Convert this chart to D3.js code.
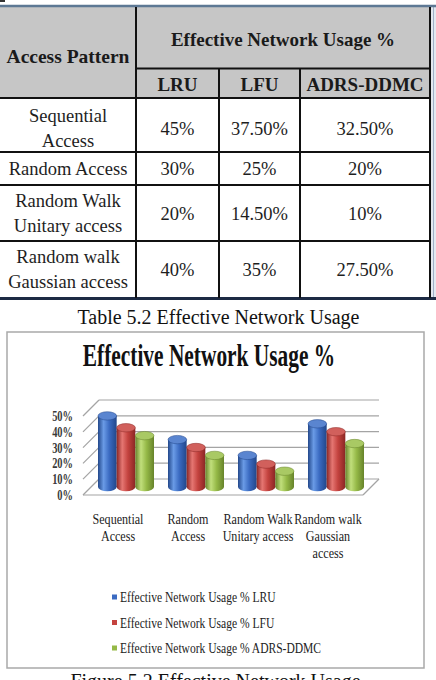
<!DOCTYPE html>
<html><head><meta charset="utf-8">
<script src="https://cdn.jsdelivr.net/npm/d3@7"></script>
<style>body{margin:0;background:#fff}svg{display:block}</style>
</head><body>
<script>
// ---------- data ----------
const tableHeaderLeft = "Access Pattern";
const tableHeaderTop = "Effective Network Usage %";
const methods = ["LRU", "LFU", "ADRS-DDMC"];
const patterns = [["Sequential", "Access"], ["Random Access"], ["Random Walk", "Unitary access"], ["Random walk", "Gaussian access"]];
const tableValues = [["45%", "37.50%", "32.50%"], ["30%", "25%", "20%"], ["20%", "14.50%", "10%"], ["40%", "35%", "27.50%"]];
const tableCaption = "Table 5.2 Effective Network Usage";

const chartTitle = "Effective Network Usage %";
const categories = [["Sequential", "Access"], ["Random", "Access"], ["Random Walk", "Unitary access"], ["Random walk", "Gaussian", "access"]];
const lru = [45, 30, 20, 40];
const lfu = [37.5, 25, 14.5, 35];
const adrs = [32.5, 20, 10, 27.5];
const yTicks = [0, 10, 20, 30, 40, 50];
const yTickLabels = ["0%", "10%", "20%", "30%", "40%", "50%"];
const seriesNames = ["Effective Network Usage % LRU", "Effective Network Usage % LFU", "Effective Network Usage % ADRS-DDMC"];
const figureCaption = "Figure 5.2 Effective Network Usage";

// ---------- setup ----------
const W = 436, H = 680;
const svg = d3.select("body").append("svg").attr("width", W).attr("height", H);
const serif = "'Liberation Serif','Times New Roman',serif";

// top-left mark
svg.append("rect").attr("x", 0).attr("y", 0).attr("width", 5).attr("height", 2).attr("fill", "#333");

// ---------- table ----------
const colX = [0, 136, 219, 300, 430];
const rowY = [98, 152, 185, 241, 298];
const T = svg.append("g");
T.append("rect").attr("x", 0).attr("y", 6).attr("width", 430).attr("height", 92).attr("fill", "#c6c6c6");
T.append("rect").attr("x", 0).attr("y", 98).attr("width", 430).attr("height", 200).attr("fill", "#fff");
// right outer strip
T.append("rect").attr("x", 431).attr("y", 6).attr("width", 5).attr("height", 293).attr("fill", "#e3e8ef");
T.append("line").attr("x1", 433.5).attr("x2", 433.5).attr("y1", 6).attr("y2", 299).attr("stroke", "#9fb0c6").attr("stroke-width", 1);
// top border
T.append("line").attr("x1", 0).attr("x2", 436).attr("y1", 6).attr("y2", 6).attr("stroke", "#5d7894").attr("stroke-width", 2.5);
// header split line
T.append("line").attr("x1", colX[1]).attr("x2", colX[4]).attr("y1", 68.5).attr("y2", 68.5).attr("stroke", "#111").attr("stroke-width", 2);
// row lines
rowY.slice(0, 4).forEach(yy => {
  T.append("line").attr("x1", 0).attr("x2", colX[4]).attr("y1", yy).attr("y2", yy).attr("stroke", "#111").attr("stroke-width", 2);
});
// bottom border
T.append("line").attr("x1", 0).attr("x2", 436).attr("y1", 298.5).attr("y2", 298.5).attr("stroke", "#1d2a44").attr("stroke-width", 3);
// vertical lines
T.append("line").attr("x1", colX[1]).attr("x2", colX[1]).attr("y1", 7).attr("y2", 298).attr("stroke", "#111").attr("stroke-width", 2);
[colX[2], colX[3]].forEach(xx => {
  T.append("line").attr("x1", xx).attr("x2", xx).attr("y1", 68).attr("y2", 298).attr("stroke", "#111").attr("stroke-width", 2);
});
T.append("line").attr("x1", colX[4]).attr("x2", colX[4]).attr("y1", 7).attr("y2", 298).attr("stroke", "#111").attr("stroke-width", 2);

// header texts
T.append("text").attr("x", (colX[0] + colX[1]) / 2).attr("y", 63).attr("text-anchor", "middle")
  .attr("font-family", serif).attr("font-weight", "bold").attr("font-size", 19.5).attr("fill", "#1a1a1a").text(tableHeaderLeft);
T.append("text").attr("x", (colX[1] + colX[4]) / 2).attr("y", 46).attr("text-anchor", "middle")
  .attr("font-family", serif).attr("font-weight", "bold").attr("font-size", 19).attr("fill", "#1a1a1a").text(tableHeaderTop);
methods.forEach((m, j) => {
  T.append("text").attr("x", (colX[j + 1] + colX[j + 2]) / 2).attr("y", 91).attr("text-anchor", "middle")
    .attr("font-family", serif).attr("font-weight", "bold").attr("font-size", 19).attr("fill", "#1a1a1a").text(m);
});
// body texts
patterns.forEach((lines, i) => {
  const cy = (rowY[i] + rowY[i + 1]) / 2 + (i === 0 ? 3 : 0);
  const lh = 25;
  lines.forEach((ln, k) => {
    const by = cy + 6 + (k - (lines.length - 1) / 2) * lh;
    T.append("text").attr("x", (colX[0] + colX[1]) / 2).attr("y", by).attr("text-anchor", "middle")
      .attr("font-family", serif).attr("font-size", 18.5).attr("fill", "#1e1e1e").text(ln);
  });
  tableValues[i].forEach((v, j) => {
    T.append("text").attr("x", (colX[j + 1] + colX[j + 2]) / 2).attr("y", cy + 6.5).attr("text-anchor", "middle")
      .attr("font-family", serif).attr("font-size", 18.5).attr("fill", "#1e1e1e").text(v);
  });
});

// table caption
svg.append("text").attr("x", 218.5).attr("y", 324).attr("text-anchor", "middle")
  .attr("font-family", serif).attr("font-size", 20).attr("fill", "#111").text(tableCaption);

// ---------- chart ----------
svg.append("rect").attr("x", 7).attr("y", 332).attr("width", 417).attr("height", 336)
  .attr("fill", "#fff").attr("stroke", "#a9a9a9").attr("stroke-width", 1.5);

svg.append("g").attr("transform", "translate(209,366) scale(0.69,1)")
  .append("text").attr("text-anchor", "middle")
  .attr("font-family", serif).attr("font-weight", "bold").attr("font-size", 31)
  .attr("fill", "#111").text(chartTitle);

const DX = 16, DY = -16;
const x0 = d3.scaleBand().domain(d3.range(categories.length)).range([83, 363]);
const x1 = d3.scaleBand().domain(d3.range(3)).range([0, 56]);
const y = d3.scaleLinear().domain([0, 50]).range([495, 416]);
const gridColor = "#a4a4a4";
const C = svg.append("g");

// gridlines (back wall + left wall stubs)
yTicks.forEach(t => {
  C.append("line").attr("x1", 83 + DX).attr("x2", 363 + DX).attr("y1", y(t) + DY).attr("y2", y(t) + DY)
    .attr("stroke", gridColor).attr("stroke-width", 1.2);
  C.append("line").attr("x1", 83).attr("x2", 83 + DX).attr("y1", y(t)).attr("y2", y(t) + DY)
    .attr("stroke", gridColor).attr("stroke-width", 1.2);
});
// floor front & right edges
C.append("line").attr("x1", 83).attr("x2", 363).attr("y1", y(0)).attr("y2", y(0)).attr("stroke", gridColor).attr("stroke-width", 1.2);
C.append("line").attr("x1", 363).attr("x2", 363 + DX).attr("y1", y(0)).attr("y2", y(0) + DY).attr("stroke", gridColor).attr("stroke-width", 1.2);

// y labels
yTicks.forEach((t, i) => {
  C.append("g").attr("transform", `translate(73,${y(t) + 5}) scale(0.72,1)`)
    .append("text").attr("text-anchor", "end").attr("font-family", serif).attr("font-size", 14.5)
    .attr("font-weight", "bold").attr("fill", "#3a3a3a").text(yTickLabels[i]);
});

// gradients
const defs = svg.append("defs");
const palette = [
  { edge: "#22478a", mid: "#3b6bc2", hi: "#6a9be6", top: "#5a85d0" },
  { edge: "#8a2624", mid: "#c4433f", hi: "#e57672", top: "#d1605c" },
  { edge: "#66832a", mid: "#95b947", hi: "#c1df7c", top: "#a9c964" }
];
palette.forEach((p, j) => {
  const g = defs.append("linearGradient").attr("id", "cyl" + j).attr("x1", "0").attr("x2", "1").attr("y1", "0").attr("y2", "0");
  g.append("stop").attr("offset", "0%").attr("stop-color", p.edge);
  g.append("stop").attr("offset", "30%").attr("stop-color", p.hi);
  g.append("stop").attr("offset", "60%").attr("stop-color", p.mid);
  g.append("stop").attr("offset", "100%").attr("stop-color", p.edge);
});

const series = [lru, lfu, adrs];
const bw = x1.bandwidth();
const ry = 4.2;
const groupPad = (x0.bandwidth() - 56) / 2;
const dMid = 0.5;
categories.forEach((cat, i) => {
  series.forEach((vals, j) => {
    const cx = x0(i) + groupPad + x1(j) + bw / 2 + DX * dMid;
    const yb = y(0) + DY * dMid;
    const yt = y(vals[i]) + DY * dMid;
    const g = C.append("g");
    g.append("ellipse").attr("cx", cx).attr("cy", yb).attr("rx", bw / 2).attr("ry", ry).attr("fill", `url(#cyl${j})`);
    g.append("rect").attr("x", cx - bw / 2).attr("y", yt).attr("width", bw).attr("height", yb - yt).attr("fill", `url(#cyl${j})`);
    g.append("ellipse").attr("cx", cx).attr("cy", yt).attr("rx", bw / 2).attr("ry", ry)
      .attr("fill", palette[j].top).attr("stroke", palette[j].edge).attr("stroke-width", 0.5);
  });
});

// category labels
categories.forEach((lines, i) => {
  const cx = x0(i) + x0.bandwidth() / 2;
  lines.forEach((ln, k) => {
    C.append("g").attr("transform", `translate(${cx},${524 + k * 17}) scale(0.78,1)`)
      .append("text").attr("text-anchor", "middle").attr("font-family", serif).attr("font-size", 15.5)
      .attr("fill", "#222").text(ln);
  });
});

// legend
seriesNames.forEach((s, j) => {
  const ly = 597 + j * 25.5;
  C.append("rect").attr("x", 112).attr("y", ly - 2.5).attr("width", 5).attr("height", 5).attr("fill", palette[j].mid);
  C.append("g").attr("transform", `translate(120,${ly + 5}) scale(0.77,1)`)
    .append("text").attr("font-family", serif).attr("font-size", 15).attr("fill", "#222").text(s);
});

// figure caption (partly cut off at the bottom edge, as in the reference)
svg.append("text").attr("x", 215.5).attr("y", 688).attr("text-anchor", "middle")
  .attr("font-family", serif).attr("font-size", 20).attr("fill", "#111").text(figureCaption);
</script>
</body></html>
